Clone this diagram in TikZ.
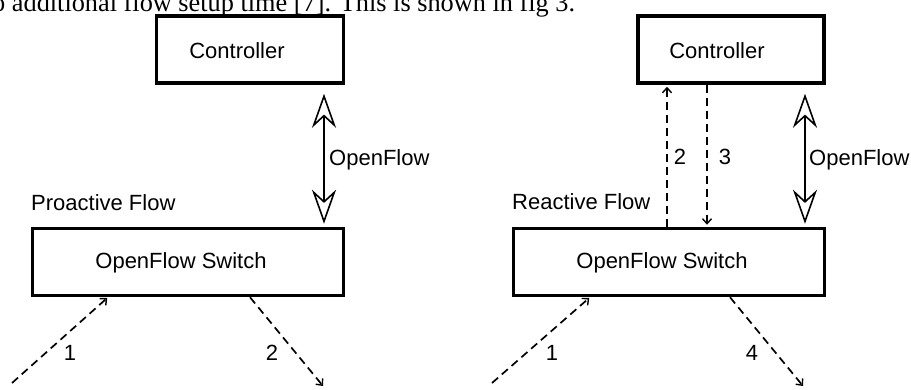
\documentclass[tikz,border=0pt]{standalone}
\usepackage{fontspec}
\setmainfont{Liberation Sans}
\newfontfamily\capserif{Liberation Serif}
\usetikzlibrary{arrows.meta}
\begin{document}
\begin{tikzpicture}[x=1pt,y=-1pt,
  box/.style={draw, line width=3.5pt, inner sep=0pt, minimum height=67pt},
  lbl/.style={font=\fontsize{22}{26}\selectfont, inner sep=0pt},
  ofarrow/.style={line width=2pt,
    {Stealth[open,length=34pt,width=24pt,inset=11pt,line width=1.6pt]}-{Stealth[open,length=34pt,width=24pt,inset=11pt,line width=1.6pt]}},
  dasharrow/.style={dash pattern=on 8pt off 5pt, line width=1.7pt,
    -{Straight Barb[length=5pt,width=9pt,line width=1.4pt]}}]
\useasboundingbox (0,0) rectangle (911,389);
\clip (0,0) rectangle (911,389);
\fill[white] (0,0) rectangle (911,389);

% caption line cut at the top
\node[anchor=base west, inner sep=0pt, font=\capserif\fontsize{26.3}{30}\selectfont] (cap) at (-8,11) {o additional flow setup time [7]. This is shown in fig 3.};

% ---------- left: proactive ----------
\node[box, minimum width=187pt] (ctrlL) at (250,49.5) {};
\node[lbl] (ctrlLt) at (237,51) {Controller};
\node[box, minimum width=311pt] (swL) at (188,262) {};
\node[lbl] (swLt) at (181,263) {OpenFlow Switch};
\node[lbl, anchor=west] (proL) at (31,203) {Proactive Flow};

\coordinate (xL) at (324,0);
\draw[ofarrow, shorten <=9pt, shorten >=3pt] (ctrlL.south -| xL) -- (swL.north -| xL);
\node[lbl, anchor=west] (ofL) at (329,160) {OpenFlow};

\coordinate (l1s) at (12,383);
\coordinate (l1e) at (108,0);
\draw[dasharrow, shorten >=1pt] (l1s) -- (swL.south -| l1e);
\node[lbl] (n1L) at (70,353) {1};
\coordinate (l2s) at (250,0);
\coordinate (l2e) at (323,386);
\draw[dasharrow] (swL.south -| l2s) -- (l2e);
\node[lbl] (n2L) at (272,353) {2};

% ---------- right: reactive ----------
\node[box, minimum width=186pt] (ctrlR) at (731,49.5) {};
\node[lbl] (ctrlRt) at (717,51) {Controller};
\node[box, minimum width=311pt] (swR) at (669,262) {};
\node[lbl] (swRt) at (662,263) {OpenFlow Switch};
\node[lbl, anchor=west] (reaR) at (512,202) {Reactive Flow};

\coordinate (xR) at (805,0);
\draw[ofarrow, shorten <=9pt, shorten >=3pt] (ctrlR.south -| xR) -- (swR.north -| xR);
\node[lbl, anchor=west] (ofR) at (809,160) {OpenFlow};

\coordinate (x2) at (667,0);
\coordinate (x3) at (707,0);
\draw[dasharrow, shorten >=2pt] (swR.north -| x2) -- (ctrlR.south -| x2);
\draw[dasharrow, shorten >=2pt] (ctrlR.south -| x3) -- (swR.north -| x3);
\node[lbl] (n2R) at (680,157) {2};
\node[lbl] (n3R) at (725,157) {3};

\coordinate (r1s) at (492,383);
\coordinate (r1e) at (590,0);
\draw[dasharrow, shorten >=1pt] (r1s) -- (swR.south -| r1e);
\node[lbl] (n1R) at (552,353) {1};
\coordinate (r4s) at (730,0);
\coordinate (r4e) at (803,386);
\draw[dasharrow] (swR.south -| r4s) -- (r4e);
\node[lbl] (n4R) at (752,353) {4};
\end{tikzpicture}
\end{document}
